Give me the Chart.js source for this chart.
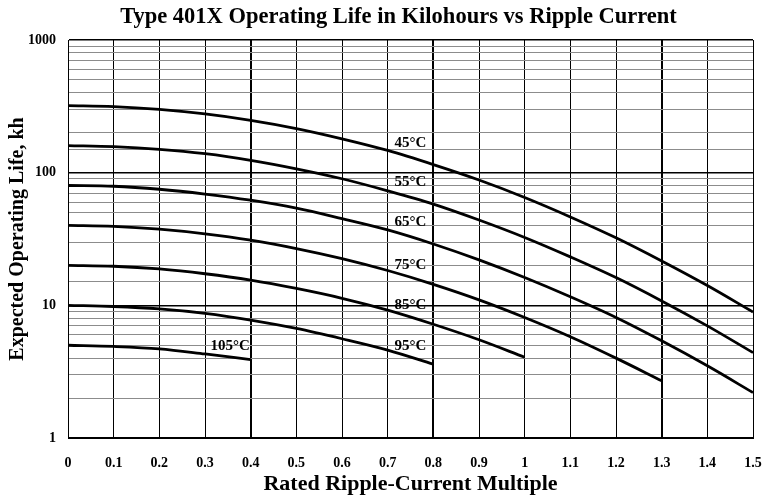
<!DOCTYPE html>
<html>
<head>
<meta charset="utf-8">
<script src="https://cdn.jsdelivr.net/npm/chart.js@4/dist/chart.umd.min.js"></script>
<style>
  body { margin: 0; background: #fff; }
</style>
</head>
<body>
<canvas id="lifeChart" width="764" height="499"></canvas>
<script>
// values (kilohours at each ripple-current multiple)
const ripple = [0, 0.1, 0.2, 0.3, 0.4, 0.5, 0.6, 0.7, 0.8, 0.9, 1.0, 1.1, 1.2, 1.3, 1.4, 1.5];
const life45 = [320, 315, 300, 277, 248, 215, 180, 147, 115, 88, 65, 46.4, 32.3, 21.6, 14.1, 8.9];
const life55 = [160, 157, 150, 139, 124, 107, 90, 73, 58, 44, 32.5, 23.2, 16.2, 10.8, 7.0, 4.4];
const life65 = [80, 79, 75, 69, 62, 54, 45, 37, 29, 22, 16.2, 11.6, 8.1, 5.4, 3.5, 2.2];
const life75 = [40, 39.4, 37.5, 34.6, 31, 26.8, 22.5, 18.3, 14.4, 11, 8.1, 5.8, 4.0, 2.7];
const life85 = [20, 19.7, 18.8, 17.3, 15.5, 13.4, 11.3, 9.2, 7.2, 5.5, 4.06];
const life95 = [10, 9.8, 9.4, 8.7, 7.75, 6.7, 5.6, 4.6, 3.6];
const life105 = [5, 4.9, 4.7, 4.3, 3.9];

// curve labels and where they sit
const curveNames = ['45°C', '55°C', '65°C', '75°C', '85°C', '95°C', '105°C'];
const labelRipple = [0.75, 0.75, 0.75, 0.75, 0.75, 0.75, 0.355];
const labelLife = [167, 85, 42.5, 20.1, 10.1, 4.95, 4.95];

const yTicks = [1, 10, 100, 1000];
const thickX = [0.4, 0.8, 1.3];

const allLife = [life45, life55, life65, life75, life85, life95, life105];

const datasets = allLife.map((arr, i) => ({
  label: curveNames[i],
  data: arr.map((v, j) => ({ x: ripple[j], y: v })),
  borderColor: '#000',
  borderWidth: 2.8,
  pointRadius: 0,
  fill: false,
  cubicInterpolationMode: 'monotone'
}));

const serif = '"Liberation Serif", "Times New Roman", serif';

const isDecade = (v) => yTicks.includes(Math.round(v * 1000) / 1000);

// draws the temperature labels next to the curves
const curveLabels = {
  id: 'curveLabels',
  afterLayout(chart) {
    // the scanned title sits a little right of centre
    chart.titleBlock.left += 44;
  },
  afterDatasetsDraw(chart) {
    const { ctx, scales: { x, y } } = chart;
    ctx.save();
    ctx.font = 'bold 15px ' + serif;
    ctx.fillStyle = '#000';
    ctx.textAlign = 'center';
    ctx.textBaseline = 'middle';
    curveNames.forEach((name, i) => {
      ctx.fillText(name, x.getPixelForValue(labelRipple[i]), y.getPixelForValue(labelLife[i]));
    });
    ctx.restore();
  }
};

const config = {
  type: 'line',
  data: { datasets },
  options: {
    responsive: false,
    animation: false,
    devicePixelRatio: 1,
    layout: { padding: { left: 0, right: 11, top: 0, bottom: 0 } },
    plugins: {
      legend: { display: false },
      tooltip: { enabled: false },
      title: {
        display: true,
        text: 'Type 401X Operating Life in Kilohours vs Ripple Current',
        color: '#000',
        font: { family: serif, size: 22.5, weight: 'bold' },
        padding: { top: 4, bottom: 9 }
      }
    },
    scales: {
      x: {
        type: 'linear',
        min: 0,
        max: 1.5,
        afterFit: (s) => { s.height = 61; s.paddingRight = 0; s.paddingLeft = 0; },
        ticks: {
          stepSize: 0.1,
          color: '#000',
          padding: 17,
          maxRotation: 0,
          autoSkip: false,
          font: { family: serif, size: 14, weight: 'bold' },
          callback: (v) => String(Math.round(v * 10) / 10)
        },
        grid: {
          color: '#000',
          drawTicks: false,
          lineWidth: (c) => thickX.includes(Math.round(c.tick.value * 10) / 10) ? 2 : 1
        },
        border: { color: '#000', width: 1 },
        title: {
          display: true,
          text: 'Rated Ripple-Current Multiple',
          color: '#000',
          font: { family: serif, size: 22, weight: 'bold' },
          padding: { top: 0, bottom: 1 }
        }
      },
      y: {
        type: 'logarithmic',
        min: 1,
        max: 1000,
        afterFit: (s) => { s.width = 68; },
        ticks: {
          color: '#000',
          padding: 12,
          autoSkip: false,
          font: { family: serif, size: 14, weight: 'bold' },
          callback: (v) => isDecade(v) ? String(v) : ''
        },
        grid: {
          drawTicks: false,
          color: (c) => isDecade(c.tick.value) ? '#000' : '#8c8c8c',
          lineWidth: (c) => isDecade(c.tick.value) ? 1.5 : 1
        },
        border: { color: '#000', width: 1 },
        title: {
          display: true,
          text: 'Expected Operating Life, kh',
          color: '#000',
          font: { family: serif, size: 20, weight: 'bold' },
          padding: { top: 6, bottom: 0 }
        }
      }
    }
  },
  plugins: [curveLabels]
};

const lifeChart = new Chart(
  document.getElementById('lifeChart'),
  config
);
</script>
</body>
</html>
